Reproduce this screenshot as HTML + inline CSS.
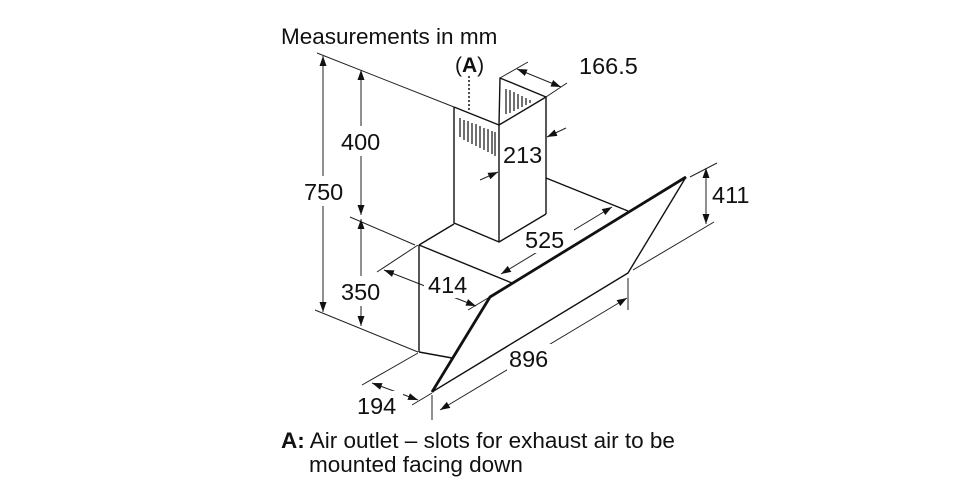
<!DOCTYPE html>
<html><head><meta charset="utf-8"><style>
html,body{margin:0;padding:0;background:#fff;}
svg{display:block;}
text{font-family:"Liberation Sans",Arial,sans-serif;fill:#111;}
</style></head><body>
<svg width="965" height="496" viewBox="0 0 965 496" xmlns="http://www.w3.org/2000/svg">
<defs>
<marker id="a" viewBox="0 0 10 10" refX="10" refY="5" markerWidth="10" markerHeight="10" orient="auto-start-reverse" markerUnits="userSpaceOnUse"><path d="M0,1.5 L10,5 L0,8.5 z" fill="#111"/></marker>
</defs>
<text x="281" y="44" font-size="22.5">Measurements in mm</text>

<g stroke="#222" stroke-width="1" fill="none">
<line x1="317" y1="53" x2="454" y2="107"/>
<line x1="315" y1="310" x2="418" y2="352"/>
<line x1="350" y1="217" x2="415" y2="245"/>
<line x1="377" y1="272" x2="418" y2="245"/>
<line x1="362" y1="385" x2="418" y2="353"/>
<line x1="412" y1="405" x2="432" y2="393"/>
<line x1="468" y1="310" x2="488" y2="298"/>
<line x1="432" y1="395" x2="432" y2="420"/>
<line x1="628" y1="278" x2="628" y2="310"/>
<line x1="690" y1="177" x2="717" y2="163"/>
<line x1="633" y1="270" x2="714" y2="222"/>
<line x1="500" y1="78" x2="528" y2="62"/>
<line x1="546" y1="97" x2="567" y2="83"/>
<line x1="323" y1="56" x2="323" y2="312" marker-start="url(#a)" marker-end="url(#a)"/>
<line x1="361" y1="70" x2="361" y2="215" marker-start="url(#a)" marker-end="url(#a)"/>
<line x1="361" y1="219" x2="361" y2="326" marker-start="url(#a)" marker-end="url(#a)"/>
<line x1="706" y1="168" x2="706" y2="224" marker-start="url(#a)" marker-end="url(#a)"/>
<line x1="384" y1="270" x2="476" y2="306" marker-start="url(#a)" marker-end="url(#a)"/>
<line x1="501" y1="274" x2="612" y2="207" marker-start="url(#a)" marker-end="url(#a)"/>
<line x1="440" y1="410" x2="627" y2="298" marker-start="url(#a)" marker-end="url(#a)"/>
<line x1="372" y1="383" x2="418" y2="400" marker-start="url(#a)" marker-end="url(#a)"/>
<line x1="517" y1="69" x2="561" y2="87" marker-start="url(#a)" marker-end="url(#a)"/>
<line x1="566" y1="128" x2="547" y2="137" marker-end="url(#a)"/>
<line x1="480" y1="180" x2="498" y2="172" marker-end="url(#a)"/>
</g>
<g fill="#fff">
<rect x="339" y="126" width="48" height="30"/>
<rect x="302" y="176" width="48" height="30"/>
<rect x="339" y="276" width="48" height="30"/>
<rect x="424" y="270" width="52" height="28"/>
<rect x="522" y="225" width="52" height="28"/>
<rect x="507" y="344" width="52" height="28"/>
<rect x="355" y="391" width="48" height="28"/>
</g>

<g stroke="#111" stroke-width="1.4" fill="none" stroke-linejoin="round">
<polyline points="454,107 499,125 499,242 454,223 454,107"/>
<polyline points="499,125 500,78 546,97 546,214"/>
<line x1="499" y1="125" x2="546" y2="97"/>
<line x1="499" y1="242" x2="546" y2="214"/>
<line x1="546" y1="178" x2="628" y2="211"/>
<line x1="454" y1="224" x2="419" y2="245"/>
<line x1="419" y1="245" x2="512" y2="283"/>
<line x1="419" y1="245" x2="419" y2="352"/>
<line x1="419" y1="352" x2="452" y2="358"/>
<polyline points="686,177 628,273 432,392"/>
<polyline points="432,392 490,297 686,177" stroke-width="2.8"/>
</g>
<g stroke="#111" stroke-width="1.2">
<line x1="460" y1="118" x2="460" y2="137"/><line x1="464" y1="120" x2="464" y2="140"/>
<line x1="468" y1="121" x2="468" y2="142"/><line x1="472" y1="123" x2="472" y2="144"/>
<line x1="476" y1="124" x2="476" y2="146"/><line x1="480" y1="126" x2="480" y2="148"/>
<line x1="484" y1="128" x2="484" y2="150"/><line x1="488" y1="129" x2="488" y2="152"/>
<line x1="492" y1="131" x2="492" y2="154"/><line x1="495" y1="132" x2="495" y2="156"/>
<line x1="506" y1="89" x2="506" y2="114"/><line x1="510" y1="90" x2="510" y2="113"/>
<line x1="514" y1="92" x2="514" y2="111"/><line x1="518" y1="94" x2="518" y2="109"/>
<line x1="522" y1="96" x2="522" y2="107"/><line x1="526" y1="98" x2="526" y2="105"/>
<line x1="530" y1="100" x2="530" y2="103"/>
<line x1="469" y1="76" x2="469" y2="112" stroke-dasharray="2,2" stroke-width="1.5"/>
</g>

<g font-size="23.5">
<text x="455" y="72" font-size="21">(<tspan font-weight="bold">A</tspan>)</text>
<text x="579" y="74">166.5</text>
<text x="503" y="163">213</text>
<text x="341" y="150">400</text>
<text x="304" y="200">750</text>
<text x="341" y="300">350</text>
<text x="428" y="293">414</text>
<text x="525" y="248">525</text>
<text x="712" y="203">411</text>
<text x="509" y="367">896</text>
<text x="357" y="414">194</text>
</g>
<g font-size="22.5">
<text x="281" y="448"><tspan font-weight="bold">A:</tspan> Air outlet – slots for exhaust air to be</text>
<text x="309" y="472">mounted facing down</text>
</g>
</svg>
</body></html>
